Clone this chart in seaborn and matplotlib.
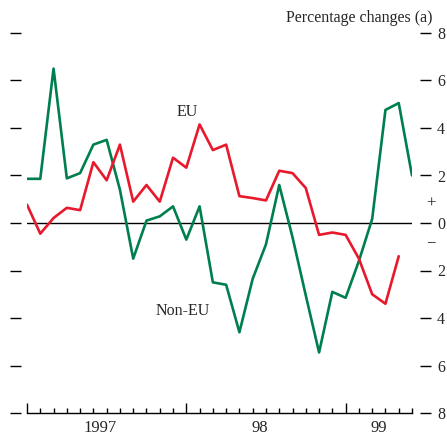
import numpy as np
import pandas as pd
import matplotlib
matplotlib.use("Agg")
import matplotlib.pyplot as plt
import seaborn as sns

# monthly percentage changes, Jan 1997 onwards
eu = [0.77, -0.45, 0.21, 0.64, 0.54, 2.56, 1.8, 3.3, 0.9, 1.6, 0.9, 2.75,
      2.33, 4.15, 3.07, 3.3, 1.13, 1.05, 0.95, 2.2, 2.1, 1.47, -0.5, -0.4,
      -0.5, -1.5, -3.0, -3.4, -1.4]
non_eu = [1.86, 1.86, 6.5, 1.88, 2.1, 3.3, 3.5, 1.4, -1.5, 0.1, 0.28, 0.7,
          -0.7, 0.7, -2.5, -2.6, -4.6, -2.35, -0.9, 1.6, -0.6, -3.05, -5.45, -2.9,
          -3.15, -1.6, 0.17, 4.76, 5.05, 2.0]
year_labels = ["1997", "98", "99"]
year_pos = [5.5, 17.5, 26.5]
y_ticks = [-8, -6, -4, -2, 0, 2, 4, 6, 8]

df_eu = pd.DataFrame({"month": np.arange(len(eu)), "value": eu})
df_non = pd.DataFrame({"month": np.arange(len(non_eu)), "value": non_eu})

sns.set_style("white")
plt.rcParams["font.family"] = ["Liberation Serif", "DejaVu Serif"]

fig = plt.figure(figsize=(4.47, 4.36), dpi=100)
ax = fig.add_axes([27 / 447, 23 / 436, 385 / 447, 380 / 436])

red = "#e8192c"
green = "#007f4e"
ax.axhline(0, color="black", lw=1.0, zorder=1)
sns.lineplot(data=df_non, x="month", y="value", color=green, lw=1.9, ax=ax)
sns.lineplot(data=df_eu, x="month", y="value", color=red, lw=1.9, ax=ax)

ax.set_xlim(0, 29)
ax.set_ylim(-8, 8)
ax.set_xlabel("")
ax.set_ylabel("")

# x axis: monthly ticks, tall at year starts
ax.set_xticks([0, 12, 24])
ax.set_xticks(np.arange(0, 30), minor=True)
ax.tick_params(axis="x", which="major", bottom=True, direction="in", length=7,
               width=1, labelbottom=False, color="black")
ax.tick_params(axis="x", which="minor", bottom=True, direction="in", length=3.5,
               width=1, color="black")
for lab, p in zip(year_labels, year_pos):
    ax.text(p, -8.3, lab, ha="center", va="top", fontsize=12)

# y axis: ticks both sides, labels on the right as absolute values
ax.set_yticks(y_ticks)
ax.set_yticklabels([str(abs(v)) for v in y_ticks])
ax.tick_params(axis="y", left=True, right=True, labelleft=False, labelright=True,
               direction="out", length=8, width=1, color="black", pad=4.5,
               labelsize=11.5)
ax.spines["left"].set_position(("outward", 4.5))
ax.spines["right"].set_position(("outward", 5.5))
for s in ["left", "right", "top"]:
    ax.spines[s].set_visible(False)
ax.spines["bottom"].set_color("black")
ax.spines["bottom"].set_linewidth(1)

fig.text(431 / 447, 1 - 204 / 436, "+", ha="center", va="center", fontsize=12)
fig.text(431 / 447, 1 - 243 / 436, "\u2212", ha="center", va="center", fontsize=12)
fig.text(433 / 447, 1 - 18 / 436, "Percentage changes (a)", ha="right", va="center",
         fontsize=11.5)
fig.text(187 / 447, 1 - 112 / 436, "EU", ha="center", va="center", fontsize=11.5)
fig.text(183 / 447, 1 - 311 / 436, "Non-EU", ha="center", va="center", fontsize=11.5)

fig.savefig("out.png", dpi=100)
